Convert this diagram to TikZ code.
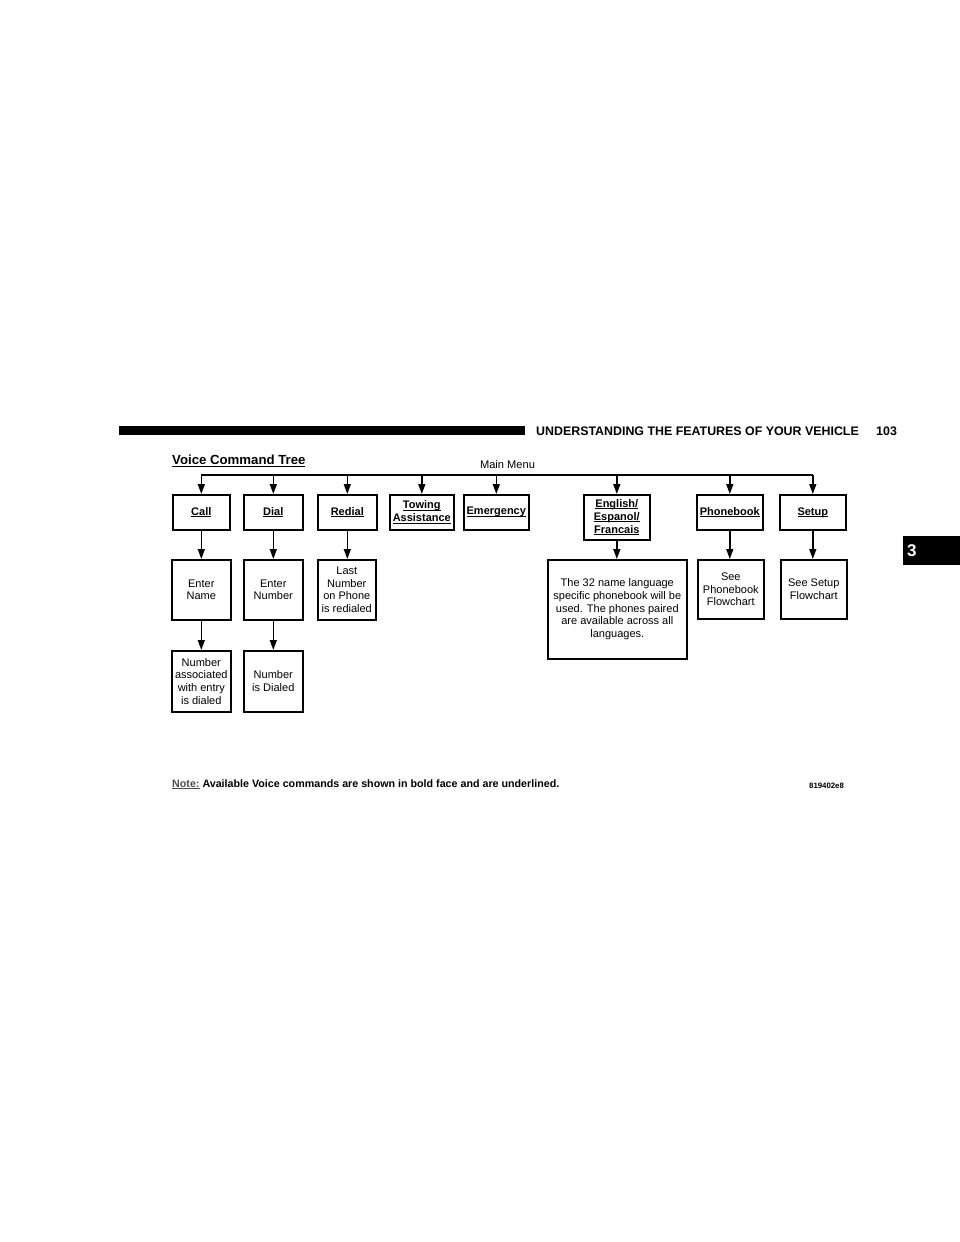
\documentclass[tikz,border=0pt]{standalone}
\usepackage{fontspec}
\setmainfont{Liberation Sans}
\usetikzlibrary{arrows.meta}
\newcommand\myul[1]{\setbox0\hbox{#1}\rlap{\rule[-1.7pt]{\wd0}{0.75pt}}\box0}
\begin{document}
\begin{tikzpicture}[x=1pt,y=-1pt,
  box/.style={draw,line width=1.6pt,anchor=north west,align=center,inner sep=1pt,
    font=\fontsize{11}{12.8}\selectfont},
  cmd/.style={box,font=\fontsize{11}{13}\selectfont\bfseries},
  arr/.style={line width=1.4pt,-{Triangle[length=10pt,width=7pt]}},
  bar/.style={line width=1.4pt}]
\useasboundingbox (0,0) rectangle (960,1242);
\fill[white] (0,0) rectangle (960,1242);
% header
\fill[black] (119,426) rectangle (525,435);
\node[anchor=west,inner sep=0pt,font=\fontsize{12.4}{14}\selectfont\bfseries] (hdr) at (536,431) {UNDERSTANDING THE FEATURES OF YOUR VEHICLE};
\node[anchor=west,inner sep=0pt,font=\fontsize{12.4}{14}\selectfont\bfseries] (pg) at (876,431) {103};
\fill[black] (903,536) rectangle (960,565);
\node[anchor=west,inner sep=0pt,text=white,font=\fontsize{17}{18}\selectfont\bfseries] (tab) at (907,551) {3};
% title
\node[anchor=west,inner sep=0pt,font=\fontsize{13.2}{15}\selectfont\bfseries] (title) at (172,461) {\myul{Voice Command Tree}};
\node[anchor=center,inner sep=0pt,font=\fontsize{11.1}{13}\selectfont] (mm) at (507.5,465) {Main Menu};
% top row
\node[cmd,minimum width=57pt,minimum height=35pt] (call) at (172,494) {\myul{Call}};
\node[cmd,minimum width=59pt,minimum height=35pt] (dial) at (243,494) {\myul{Dial}};
\node[cmd,minimum width=59pt,minimum height=35pt] (redial) at (317,494) {\myul{Redial}};
\node[cmd,minimum width=64pt,minimum height=35pt] (tow) at (389,494) {\myul{Towing}\\\myul{Assistance}};
\node[cmd,minimum width=65pt,minimum height=35pt] (emer) at (463,494) {\myul{Emergency}};
\node[cmd,minimum width=66pt,minimum height=45pt] (lang) at (583,494) {\myul{English/}\\\myul{Espanol/}\\\myul{Francais}};
\node[cmd,minimum width=66pt,minimum height=35pt] (pb) at (696,494) {\myul{Phonebook}};
\node[cmd,minimum width=66pt,minimum height=35pt] (setup) at (779,494) {\myul{Setup}};
% second row
\node[box,minimum width=59pt,minimum height=60pt] (ename) at (171,559) {Enter\\Name};
\node[box,minimum width=59pt,minimum height=60pt] (enum) at (243,559) {Enter\\Number};
\node[box,minimum width=58pt,minimum height=60pt] (last) at (317,559) {Last\\Number\\on Phone\\is redialed};
\node[box,minimum width=139pt,minimum height=99pt] (langtxt) at (547,559) {The 32 name language\\specific phonebook will be\\used. The phones paired\\are available across all\\languages.};
\node[box,minimum width=66pt,minimum height=59pt] (seepb) at (697,559) {See\\Phonebook\\Flowchart};
\node[box,minimum width=66pt,minimum height=59pt] (seesetup) at (780,559) {See Setup\\Flowchart};
% third row
\node[box,minimum width=59pt,minimum height=61pt] (assoc) at (171,650) {Number\\associated\\with entry\\is dialed};
\node[box,minimum width=59pt,minimum height=61pt] (dialed) at (243,650) {Number\\is Dialed};
% bar coordinates
\coordinate (b1) at (call.north |- 0,475);
\coordinate (b2) at (dial.north |- 0,475);
\coordinate (b3) at (redial.north |- 0,475);
\coordinate (b4) at (tow.north |- 0,475);
\coordinate (b5) at (emer.north |- 0,475);
\coordinate (b6) at (lang.north |- 0,475);
\coordinate (b7) at (pb.north |- 0,475);
\coordinate (b8) at (setup.north |- 0,475);
\draw[bar] (b1) -- (b8);
\foreach \c/\n in {b1/call,b2/dial,b3/redial,b4/tow,b5/emer,b6/lang,b7/pb,b8/setup}
  \draw[arr] (\c) -- (\n.north);
\draw[arr] (call.south) -- (call.south |- ename.north);
\draw[arr] (dial.south) -- (dial.south |- enum.north);
\draw[arr] (redial.south) -- (redial.south |- last.north);
\draw[arr] (lang.south) -- (lang.south |- langtxt.north);
\draw[arr] (pb.south) -- (pb.south |- seepb.north);
\draw[arr] (setup.south) -- (setup.south |- seesetup.north);
\draw[arr] (ename.south) -- (ename.south |- assoc.north);
\draw[arr] (enum.south) -- (enum.south |- dialed.north);
% note
\node[anchor=west,inner sep=0pt,font=\fontsize{10.7}{12}\selectfont\bfseries] (note) at (172,784) {\textcolor{black!70}{\myul{Note:}} Available Voice commands are shown in bold face and are underlined.};
\node[anchor=west,inner sep=0pt,font=\fontsize{7.8}{9}\selectfont\bfseries] (code) at (809,786) {819402e8};
\end{tikzpicture}
\end{document}
